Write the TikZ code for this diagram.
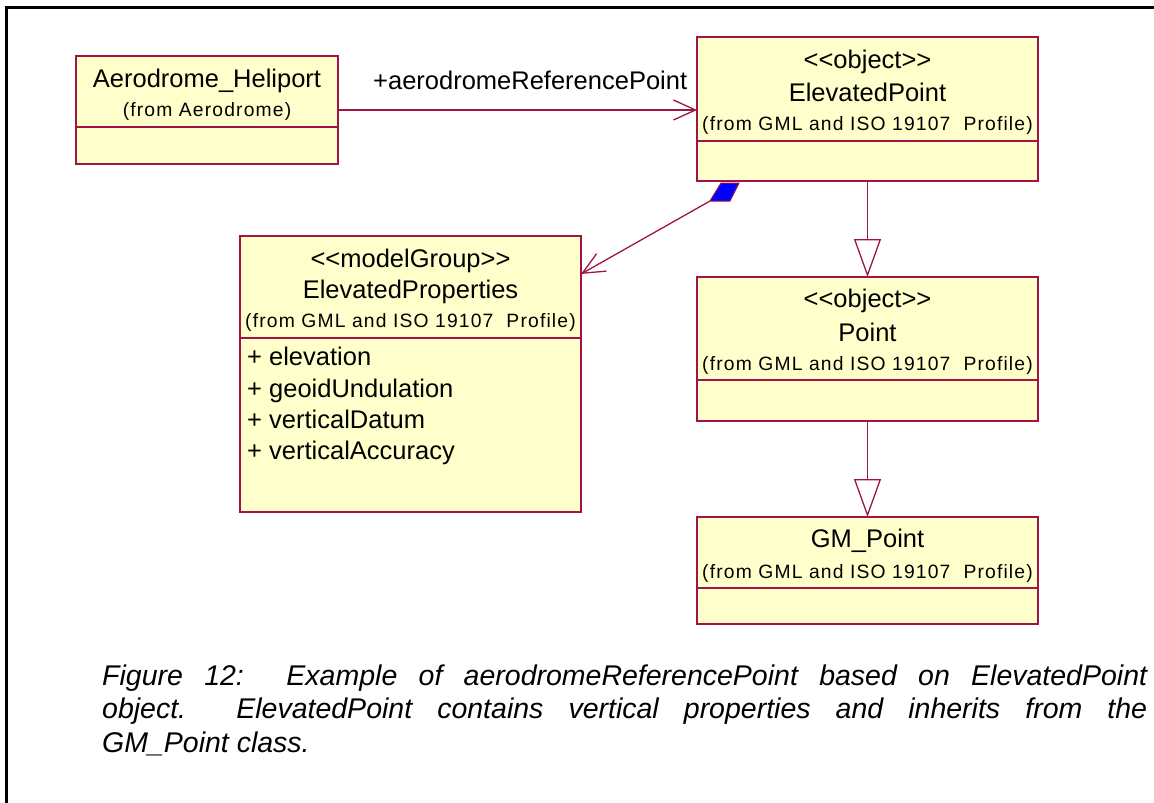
\documentclass[tikz,border=0pt]{standalone}
\usepackage{fontspec}
\setmainfont{Liberation Sans}
\newfontfamily\fromfont[LetterSpace=6]{Liberation Sans}
\usetikzlibrary{arrows.meta}
\definecolor{umlline}{RGB}{160,20,70}
\definecolor{umlfill}{RGB}{255,255,204}
\definecolor{compblue}{RGB}{0,0,255}

\tikzset{
  classbox/.style={draw=umlline, fill=umlfill, line width=1.5pt, rectangle,
    inner sep=0pt, outer sep=0pt, anchor=north west},
  sepline/.style={draw=umlline, line width=1.3pt},
  bigtext/.style={font=\fontsize{25.5}{30}\selectfont, inner sep=0pt, anchor=base},
  fromtext/.style={font=\fromfont\fontsize{19.3}{23}\selectfont, inner sep=0pt, anchor=base},
  attrtext/.style={font=\fontsize{25.5}{30}\selectfont, inner sep=0pt, anchor=base west},
  assoc/.style={draw=umlline, line width=1.3pt,
    -{Straight Barb[length=22pt, width=20pt]}},
  gen/.style={draw=umlline, line width=1.3pt,
    -{Triangle[open, length=38pt, width=27pt]}},
  captext/.style={font=\itshape\fontsize{28.5}{33}\selectfont,
    inner sep=0pt, anchor=base west},
}

\begin{document}
\begin{tikzpicture}[x=1pt, y=-1pt]
\useasboundingbox (0,0) rectangle (1154,803);
\clip (0,0) rectangle (1154,803);

% outer frame
\draw[line width=3pt, black] (6,810) -- (6,7) -- (1160,7);

% Aerodrome_Heliport
\node[classbox, minimum width=262pt, minimum height=108pt] (A) at (76,56) {};
\draw[sepline] (A.west |- 0,127) -- (A.east |- 0,127);
\node[bigtext] (Aname) at (207,87) {Aerodrome\_Heliport};
\node[fromtext] (Afrom) at (207,116) {(from Aerodrome)};

% ElevatedPoint
\node[classbox, minimum width=341pt, minimum height=144pt] (EP) at (697,37) {};
\draw[sepline] (EP.west |- 0,141) -- (EP.east |- 0,141);
\node[bigtext] (EPst) at (867.5,68) {<{}<object>{}>};
\node[bigtext] (EPname) at (867.5,101) {ElevatedPoint};
\node[fromtext] (EPfrom) at (867.5,130) {(from GML and ISO 19107\ \ Profile)};

% ElevatedProperties
\node[classbox, minimum width=341pt, minimum height=276pt] (PR) at (240,236) {};
\draw[sepline] (PR.west |- 0,338) -- (PR.east |- 0,338);
\node[bigtext] (PRst) at (410.5,267) {<{}<modelGroup>{}>};
\node[bigtext] (PRname) at (410.5,298) {ElevatedProperties};
\node[fromtext] (PRfrom) at (410.5,327) {(from GML and ISO 19107\ \ Profile)};
\node[attrtext] (PRa1) at (247,365) {+ elevation};
\node[attrtext] (PRa2) at (247,397) {+ geoidUndulation};
\node[attrtext] (PRa3) at (247,428) {+ verticalDatum};
\node[attrtext] (PRa4) at (247,459) {+ verticalAccuracy};

% Point
\node[classbox, minimum width=341pt, minimum height=144pt] (PT) at (697,277) {};
\draw[sepline] (PT.west |- 0,380) -- (PT.east |- 0,380);
\node[bigtext] (PTst) at (867.5,307) {<{}<object>{}>};
\node[bigtext] (PTname) at (867.5,341) {Point};
\node[fromtext] (PTfrom) at (867.5,370) {(from GML and ISO 19107\ \ Profile)};

% GM_Point
\node[classbox, minimum width=341pt, minimum height=107pt] (GM) at (697,517) {};
\draw[sepline] (GM.west |- 0,588) -- (GM.east |- 0,588);
\node[bigtext] (GMname) at (867.5,547) {GM\_Point};
\node[fromtext] (GMfrom) at (867.5,578) {(from GML and ISO 19107\ \ Profile)};

% association Aerodrome_Heliport -> ElevatedPoint
\draw[assoc] (A.east |- 0,110) -- (EP.west |- 0,110);
\node[attrtext] (role) at (373,89) {+aerodromeReferencePoint};

% composition ElevatedPoint <>-> ElevatedProperties
\coordinate (dia) at (710,201);
\filldraw[fill=compblue, draw=umlline, line width=1pt]
  (721,183) -- (739,183) -- (730,201) -- (dia) -- cycle;
\draw[assoc] (dia) -- (PR.east |- 0,274);

% generalizations
\draw[gen] (EP.south) -- (PT.north);
\draw[gen] (PT.south) -- (GM.north);

% caption
\node[captext] (cap1) at (102,685)
  {\makebox[1045pt][s]{Figure 12:\ \ Example of aerodromeReferencePoint based on ElevatedPoint}};
\node[captext] (cap2) at (102,718)
  {\makebox[1045pt][s]{object.\ \ ElevatedPoint contains vertical properties and inherits from the}};
\node[captext] (cap3) at (102,752) {GM\_Point class.};
\end{tikzpicture}
\end{document}
